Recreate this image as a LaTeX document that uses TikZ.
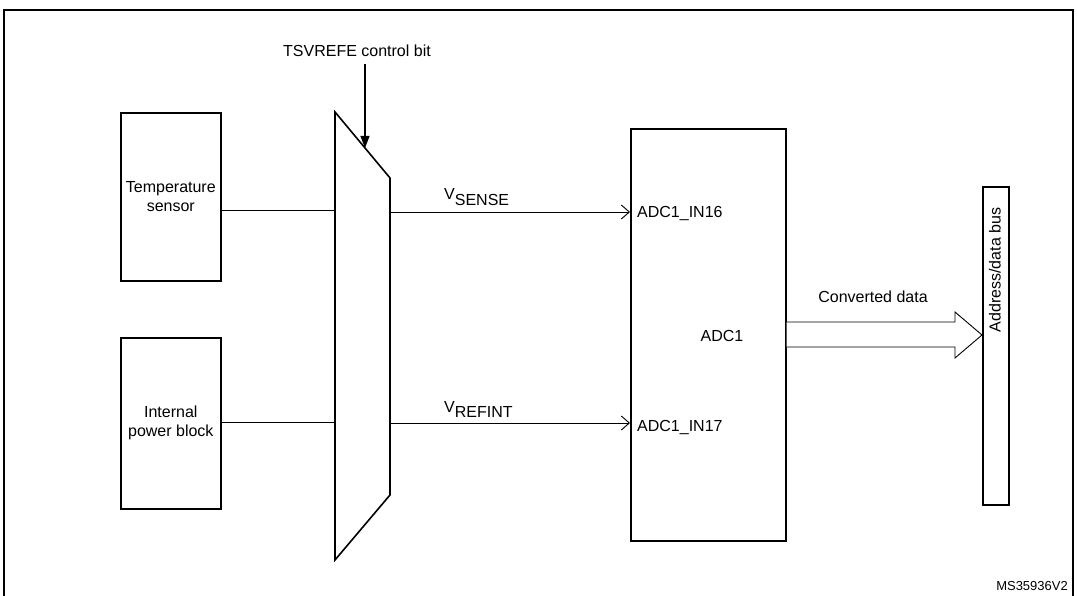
\documentclass[tikz,border=0pt]{standalone}
\usepackage{fontspec}
\setmainfont{Liberation Sans}
\usetikzlibrary{arrows.meta}
\begin{document}
\begin{tikzpicture}[x=1pt,y=-1pt,
  box/.style={draw,line width=1.6pt},
  wire/.style={line width=0.9pt},
  arr/.style={wire,-{Straight Barb[length=8pt,width=14pt,line width=0.9pt]}},
  txt/.style={font=\fontsize{16}{19}\selectfont,inner sep=0pt,align=center}]
\useasboundingbox (0,0) rectangle (1077,596);
\draw[line width=1.4pt] (4,596) -- (4,10) -- (1073,10) -- (1073,596);
\node[box,minimum width=100pt,minimum height=168pt,anchor=north west,inner sep=0pt] (ts) at (120,112) {};
\node[txt] at (ts.center) {Temperature\\sensor};
\node[box,minimum width=100pt,minimum height=171pt,anchor=north west,inner sep=0pt] (pb) at (120,337) {};
\node[txt] at (pb.center) {Internal\\power block};
\draw[box] (335,112) -- (390,178) -- (390,495) -- (335,560) -- cycle;
\coordinate (m1) at (335,210); \coordinate (m2) at (335,422);
\coordinate (mo1) at (390,212); \coordinate (mo2) at (390,423);
\draw[wire] (ts.east|-m1) -- (m1);
\draw[wire] (pb.east|-m2) -- (m2);
\node[txt,anchor=base] (ctl) at (357,57) {TSVREFE control bit};
\coordinate (c1) at (365,64); \coordinate (c2) at (365,148);
\draw[line width=1.2pt,-{Triangle[length=12pt,width=9pt]}] (c1) -- (c2);
\node[box,minimum width=155pt,minimum height=412pt,anchor=north west,inner sep=0pt] (adc) at (630,128) {};
\draw[arr] (mo1) -- (adc.west|-mo1);
\draw[arr] (mo2) -- (adc.west|-mo2);
\node[txt,anchor=base west] at (444,200) {V\textsubscript{\fontsize{16}{19}\selectfont SENSE}};
\node[txt,anchor=base west] at (444,412) {V\textsubscript{\fontsize{16}{19}\selectfont REFINT}};
\node[txt,anchor=west] at (637,214) {ADC1\_IN16};
\node[txt,anchor=west] at (637,428) {ADC1\_IN17};
\node[txt] at (722,336) {ADC1};
\node[box,minimum width=26pt,minimum height=318pt,anchor=north west,inner sep=0pt] (bus) at (982,186) {};
\node[txt,rotate=90] at (995,270) {Address/data bus};
\draw[wire,fill=white] (adc.east|-0,322) -- (955,322) -- (955,312) -- (bus.west|-0,335) -- (955,358) -- (955,347) -- (adc.east|-0,347);
\node[txt,anchor=base] at (873,303) {Converted data};
\node[font=\fontsize{13}{15}\selectfont,anchor=east,inner sep=0pt] at (1068,586) {MS35936V2};
\end{tikzpicture}
\end{document}
